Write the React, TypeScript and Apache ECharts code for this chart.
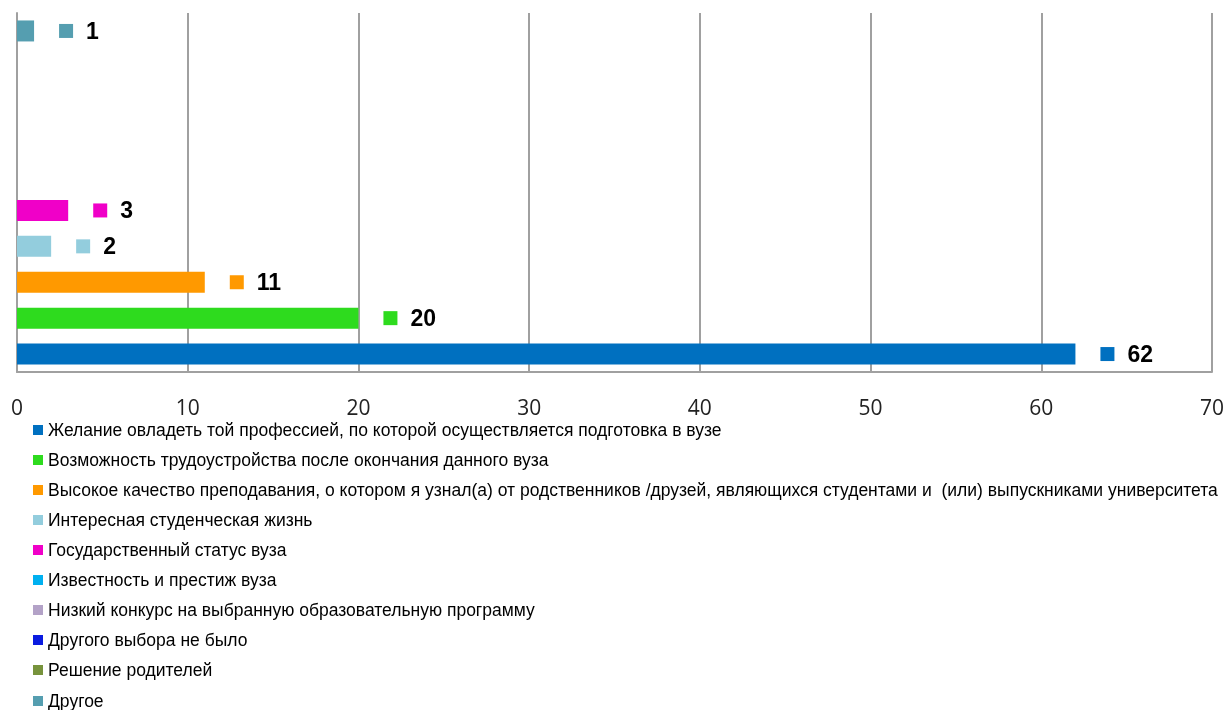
import React, { useEffect, useRef } from "react";
import * as echarts from "echarts";

const seriesNames = [
  "Желание овладеть той профессией, по которой осуществляется подготовка в вузе",
  "Возможность трудоустройства после окончания данного вуза",
  "Высокое качество преподавания, о котором я узнал(а) от родственников /друзей, являющихся студентами и  (или) выпускниками университета",
  "Интересная студенческая жизнь",
  "Государственный статус вуза",
  "Известность и престиж вуза",
  "Низкий конкурс на выбранную образовательную программу",
  "Другого выбора не было",
  "Решение родителей",
  "Другое",
];
const seriesValues: (number | null)[] = [62, 20, 11, 2, 3, null, null, null, null, 1];
const seriesColors = [
  "#0070C0",
  "#2EDB1E",
  "#FF9900",
  "#93CDDD",
  "#F000C8",
  "#00B0F0",
  "#B3A2C7",
  "#0A1BE0",
  "#77933C",
  "#559EB0",
];
const slots = ["s1", "s2", "s3", "s4", "s5", "s6", "s7", "s8", "s9", "s10"];
const xTicks = { min: 0, max: 70, interval: 10 };

const SANS = "'Liberation Sans', Arial, sans-serif";

export default function App() {
  const ref = useRef<HTMLDivElement>(null);
  useEffect(() => {
    if (!ref.current) return;
    const chart = echarts.init(ref.current, undefined, { renderer: "svg" });
    const series = seriesNames.map((name, i) => {
      const data = slots.map((_, j) =>
        j === i && seriesValues[i] != null ? seriesValues[i] : "-"
      );
      return {
        name,
        type: "bar" as const,
        data,
        barWidth: 21,
        barGap: "-100%",
        itemStyle: { color: seriesColors[i] },
        label: {
          show: true,
          position: "right" as const,
          distance: 25,
          formatter: "{sq|}{g|}{v|{c}}",
          rich: {
            sq: { backgroundColor: seriesColors[i], width: 14, height: 14 },
            g: { width: 13, height: 14 },
            v: {
              fontFamily: SANS,
              fontWeight: "bold",
              fontSize: 23,
              color: "#000",
            },
          },
        },
      };
    });
    const legendCommon = {
      orient: "vertical" as const,
      left: 33,
      padding: 0,
      itemWidth: 10,
      itemHeight: 10,
      itemGap: 10,
      icon: "rect",
      selectedMode: false,
      textStyle: {
        fontFamily: SANS,
        fontSize: 17.5,
        lineHeight: 20,
        color: "#000",
      },
    };
    chart.setOption({
      animation: false,
      grid: { left: 17, right: 17, top: 13, bottom: 338, containLabel: false },
      xAxis: {
        type: "value",
        min: xTicks.min,
        max: xTicks.max,
        interval: xTicks.interval,
        axisLine: { show: true, lineStyle: { color: "#A0A0A0", width: 2 } },
        axisTick: { show: false },
        splitLine: { show: true, lineStyle: { color: "#A0A0A0", width: 2 } },
        axisLabel: {
          margin: 24,
          fontFamily: "'Open Sans', sans-serif",
          fontSize: 21,
          color: "#222",
        },
      },
      yAxis: {
        type: "category",
        data: slots,
        axisLine: { show: true, lineStyle: { color: "#A0A0A0", width: 2 } },
        axisTick: { show: false },
        axisLabel: { show: false },
        splitLine: { show: false },
      },
      legend: [
        { ...legendCommon, top: 420, data: seriesNames.slice(0, 9) },
        { ...legendCommon, top: 691, data: seriesNames.slice(9) },
      ],
      series,
    });
    return () => chart.dispose();
  }, []);
  return (
    <div
      ref={ref}
      style={{ position: "fixed", left: 0, top: 0, width: 1229, height: 710 }}
    />
  );
}
